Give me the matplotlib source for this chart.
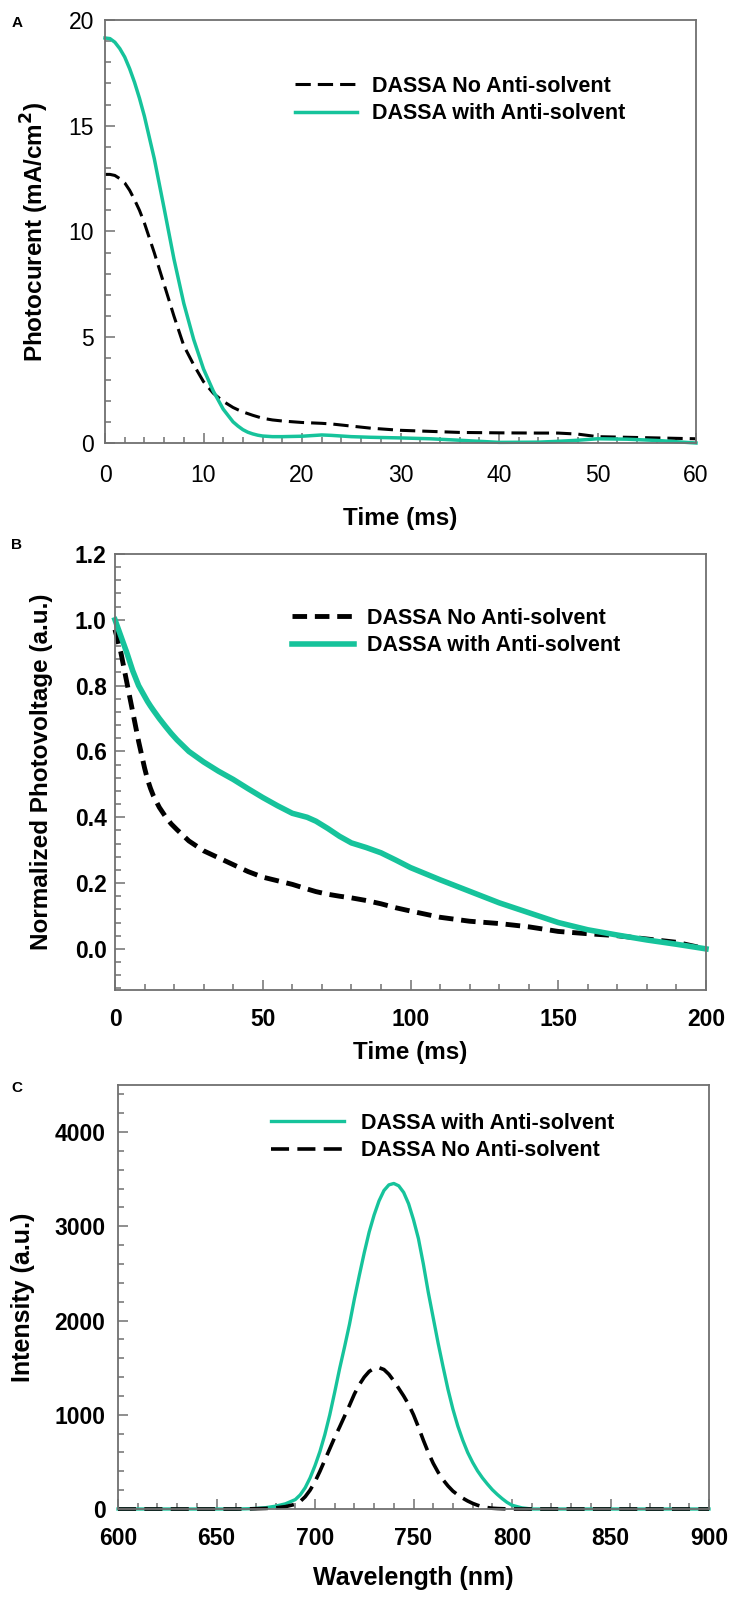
import matplotlib
matplotlib.use("Agg")
import matplotlib.pyplot as plt
from matplotlib.ticker import MultipleLocator

plt.rcParams['font.family'] = ['Liberation Sans', 'DejaVu Sans']

# ---- panel A : photocurrent decay ----
a_time = [0, 0.5, 1, 1.5, 2, 2.5, 3, 3.5, 4, 5, 6, 7, 8, 9, 10, 11, 12, 13, 13.5, 14,
          14.5, 15, 15.5, 16, 17, 18, 20, 22, 23, 25, 27, 30, 33, 36, 40, 44, 46, 48,
          50, 53, 56, 60]
a_no = [12.7, 12.7, 12.65, 12.5, 12.3, 11.95, 11.5, 11.0, 10.4, 9.0, 7.5, 6.0, 4.6, 3.7,
        2.9, 2.35, 1.97, 1.68, 1.57, 1.47, 1.39, 1.31, 1.24, 1.17, 1.09, 1.04, 0.97,
        0.93, 0.9, 0.8, 0.7, 0.6, 0.55, 0.5, 0.48, 0.47, 0.47, 0.42, 0.3, 0.27, 0.24,
        0.2]
a_with = [19.15, 19.12, 18.95, 18.65, 18.25, 17.7, 17.05, 16.3, 15.45, 13.45, 11.1, 8.7,
          6.6, 4.9, 3.5, 2.45, 1.6, 1.0, 0.8, 0.63, 0.51, 0.43, 0.37, 0.33, 0.3, 0.3,
          0.32, 0.38, 0.36, 0.3, 0.27, 0.24, 0.2, 0.13, 0.03, 0.04, 0.08, 0.13, 0.2,
          0.18, 0.12, 0.0]

# ---- panel B : normalized photovoltage decay ----
b_time = [0, 1, 2, 3, 4, 6, 8, 10, 11, 12, 13, 15, 17, 19, 21, 25, 30, 35, 40, 45, 50,
          55, 60, 65, 68, 72, 76, 80, 85, 90, 95, 100, 110, 120, 130, 140, 150, 160,
          170, 180, 190, 200]
b_no = [0.97, 0.935, 0.9, 0.855, 0.81, 0.72, 0.63, 0.55, 0.515, 0.488, 0.465, 0.43,
        0.403, 0.38, 0.362, 0.328, 0.298, 0.277, 0.256, 0.235, 0.218, 0.207, 0.196,
        0.182, 0.174, 0.166, 0.16, 0.155, 0.147, 0.137, 0.125, 0.115, 0.096, 0.084,
        0.077, 0.067, 0.053, 0.046, 0.04, 0.03, 0.02, 0.0]
b_with = [1.0, 0.975, 0.95, 0.925, 0.9, 0.845, 0.8, 0.768, 0.752, 0.738, 0.725, 0.70,
          0.677, 0.655, 0.635, 0.60, 0.568, 0.54, 0.515, 0.487, 0.46, 0.435, 0.412,
          0.4, 0.388, 0.366, 0.342, 0.322, 0.308, 0.292, 0.27, 0.247, 0.21, 0.175, 0.14,
          0.11, 0.08, 0.058, 0.042, 0.027, 0.014, 0.0]

# ---- panel C : PL spectra ----
c_nm = [600, 610, 620, 630, 640, 650, 660, 665, 670, 675, 680, 685, 690, 692.5, 695,
        697.5, 700, 702.5, 705, 707.5, 710, 712.5, 715, 717.5, 720, 722.5, 725, 727.5,
        730, 732.5, 735, 737.5, 740, 742.5, 745, 747.5, 750, 752.5, 755, 757.5, 760,
        762.5, 765, 767.5, 770, 772.5, 775, 777.5, 780, 782.5, 785, 787.5, 790, 792.5,
        795, 797.5, 800, 805, 810, 820, 830, 840, 850, 860, 870, 880, 890, 900]
c_with = [0, 0, 0, 0, 0, 0, 0, 2, 6, 14, 30, 55, 100, 150, 225,
          330, 460, 610, 790, 1000, 1240, 1490, 1720, 1960, 2230, 2480, 2720, 2940,
          3120, 3270, 3380, 3440, 3455, 3430, 3360, 3240, 3070, 2870, 2600, 2300, 2030,
          1760, 1510, 1270, 1060, 880, 730, 600, 495, 405, 330, 265, 205, 155,
          110, 70, 40, 12, 0, 0, 0, 0, 0, 0, 0, 0, 0, 0]
c_no = [0, 0, 0, 0, 0, 0, 0, 1, 3, 6, 12, 25, 50, 80, 130,
        200, 290, 400, 520, 640, 760, 870, 985, 1100, 1220, 1320, 1400, 1460,
        1492, 1500, 1480, 1430, 1360, 1280, 1200, 1110, 1000, 870, 730, 600, 485,
        390, 310, 245, 190, 150, 115, 85, 60, 40, 25, 15, 8, 5,
        3, 1, 0, 0, 0, 0, 0, 0, 0, 0, 0, 0, 0, 0]

TEAL = '#16C39B'
SPINE = '#707070'
W, H = 729, 1597

fig = plt.figure(figsize=(W / 100, H / 100), dpi=100)


def add_ax(l, r, t, b):
    return fig.add_axes([l / W, 1 - b / H, (r - l) / W, (b - t) / H])


def style(ax, weight):
    for s in ax.spines.values():
        s.set_color(SPINE)
        s.set_linewidth(1.3)
    ax.tick_params(which='both', direction='in', top=False, right=False,
                   color=SPINE, width=1.1)
    ax.tick_params(which='major', length=7)
    ax.tick_params(which='minor', length=4)
    for lab in ax.get_xticklabels() + ax.get_yticklabels():
        lab.set_fontweight(weight)


def label_xy(ax, box, xlab_y, ylab_x):
    l, r, t, b = box
    ax.xaxis.set_label_coords(0.5, (b - xlab_y) / (b - t))
    ax.yaxis.set_label_coords((ylab_x - l) / (r - l), 0.5)


# ---------------- A ----------------
boxA = (105, 696, 20, 443)
axA = add_ax(*boxA)
axA.plot(a_time, a_no, color='black', lw=2.2, dashes=(5, 2.3), label='DASSA No Anti-solvent')
axA.plot(a_time, a_with, color=TEAL, lw=2.5, label='DASSA with Anti-solvent', clip_on=False)
axA.set_xlim(0, 60)
axA.set_ylim(0, 20)
axA.xaxis.set_major_locator(MultipleLocator(10))
axA.xaxis.set_minor_locator(MultipleLocator(2))
axA.yaxis.set_major_locator(MultipleLocator(5))
axA.yaxis.set_minor_locator(MultipleLocator(1))
axA.tick_params(axis='both', labelsize=16.5)
axA.tick_params(axis='x', pad=15)
axA.tick_params(axis='y', pad=8)
style(axA, 'normal')
axA.set_xlabel('Time (ms)', fontsize=17.5, fontweight='bold', va='center')
axA.set_ylabel('Photocurent (mA/cm$\\mathbf{^2}$)', fontsize=17.5, fontweight='bold', va='center')
label_xy(axA, boxA, 518, 35)
axA.legend(loc='upper left', bbox_to_anchor=((295 - 105) / 591, 1 - (76 - 20) / 423),
           frameon=False, prop={'weight': 'bold', 'size': 15.5},
           handlelength=2.9, handletextpad=0.7, labelspacing=0.3,
           borderpad=0, borderaxespad=0)
fig.text(17 / W, 1 - 23 / H, 'A', fontsize=11, fontweight='bold', ha='center', va='center')

# ---------------- B ----------------
boxB = (115, 706, 554, 990)
axB = add_ax(*boxB)
axB.plot(b_time, b_no, color='black', lw=3.5, dashes=(3, 1.6), label='DASSA No Anti-solvent',
         clip_on=False)
axB.plot(b_time, b_with, color=TEAL, lw=4, label='DASSA with Anti-solvent', clip_on=False)
axB.set_xlim(0, 200)
axB.set_ylim(-0.125, 1.2)
axB.xaxis.set_major_locator(MultipleLocator(50))
axB.xaxis.set_minor_locator(MultipleLocator(10))
axB.set_yticks([0.0, 0.2, 0.4, 0.6, 0.8, 1.0, 1.2])
axB.set_yticklabels(['0.0', '0.2', '0.4', '0.6', '0.8', '1.0', '1.2'])
axB.yaxis.set_minor_locator(MultipleLocator(0.04))
axB.tick_params(axis='both', labelsize=16.5)
axB.tick_params(axis='x', pad=13)
axB.tick_params(axis='y', pad=6)
style(axB, 'bold')
axB.set_xlabel('Time (ms)', fontsize=17.5, fontweight='bold', va='center')
axB.set_ylabel('Normalized Photovoltage (a.u.)', fontsize=17.5, fontweight='bold', va='center')
label_xy(axB, boxB, 1052, 42)
axB.legend(loc='upper left', bbox_to_anchor=((292 - 115) / 591, 1 - (608 - 554) / 436),
           frameon=False, prop={'weight': 'bold', 'size': 15.5},
           handlelength=2.9, handletextpad=0.6, labelspacing=0.3,
           borderpad=0, borderaxespad=0)
fig.text(17 / W, 1 - 545 / H, 'B', fontsize=11, fontweight='bold', ha='center', va='center')

# ---------------- C ----------------
boxC = (118, 709, 1085, 1509)
axC = add_ax(*boxC)
axC.plot(c_nm, c_with, color=TEAL, lw=2.4, label='DASSA with Anti-solvent', clip_on=False)
axC.plot(c_nm, c_no, color='black', lw=2.6, dashes=(5, 2.3), label='DASSA No Anti-solvent',
         clip_on=False)
axC.set_xlim(600, 900)
axC.set_ylim(0, 4500)
axC.xaxis.set_major_locator(MultipleLocator(50))
axC.xaxis.set_minor_locator(MultipleLocator(10))
axC.yaxis.set_major_locator(MultipleLocator(1000))
axC.yaxis.set_minor_locator(MultipleLocator(200))
axC.tick_params(axis='both', labelsize=16.5)
axC.tick_params(axis='x', pad=13)
axC.tick_params(axis='y', pad=9)
style(axC, 'bold')
axC.set_xlabel('Wavelength (nm)', fontsize=18, fontweight='bold', va='center')
axC.set_ylabel('Intensity (a.u.)', fontsize=18, fontweight='bold', va='center')
label_xy(axC, boxC, 1578, 23)
axC.legend(loc='upper left', bbox_to_anchor=((271 - 118) / 591, 1 - (1113 - 1085) / 424),
           frameon=False, prop={'weight': 'bold', 'size': 15.5},
           handlelength=3.4, handletextpad=0.8, labelspacing=0.3,
           borderpad=0, borderaxespad=0)
fig.text(17 / W, 1 - 1088 / H, 'C', fontsize=11, fontweight='bold', ha='center', va='center')

fig.savefig('out.png', dpi=100)
